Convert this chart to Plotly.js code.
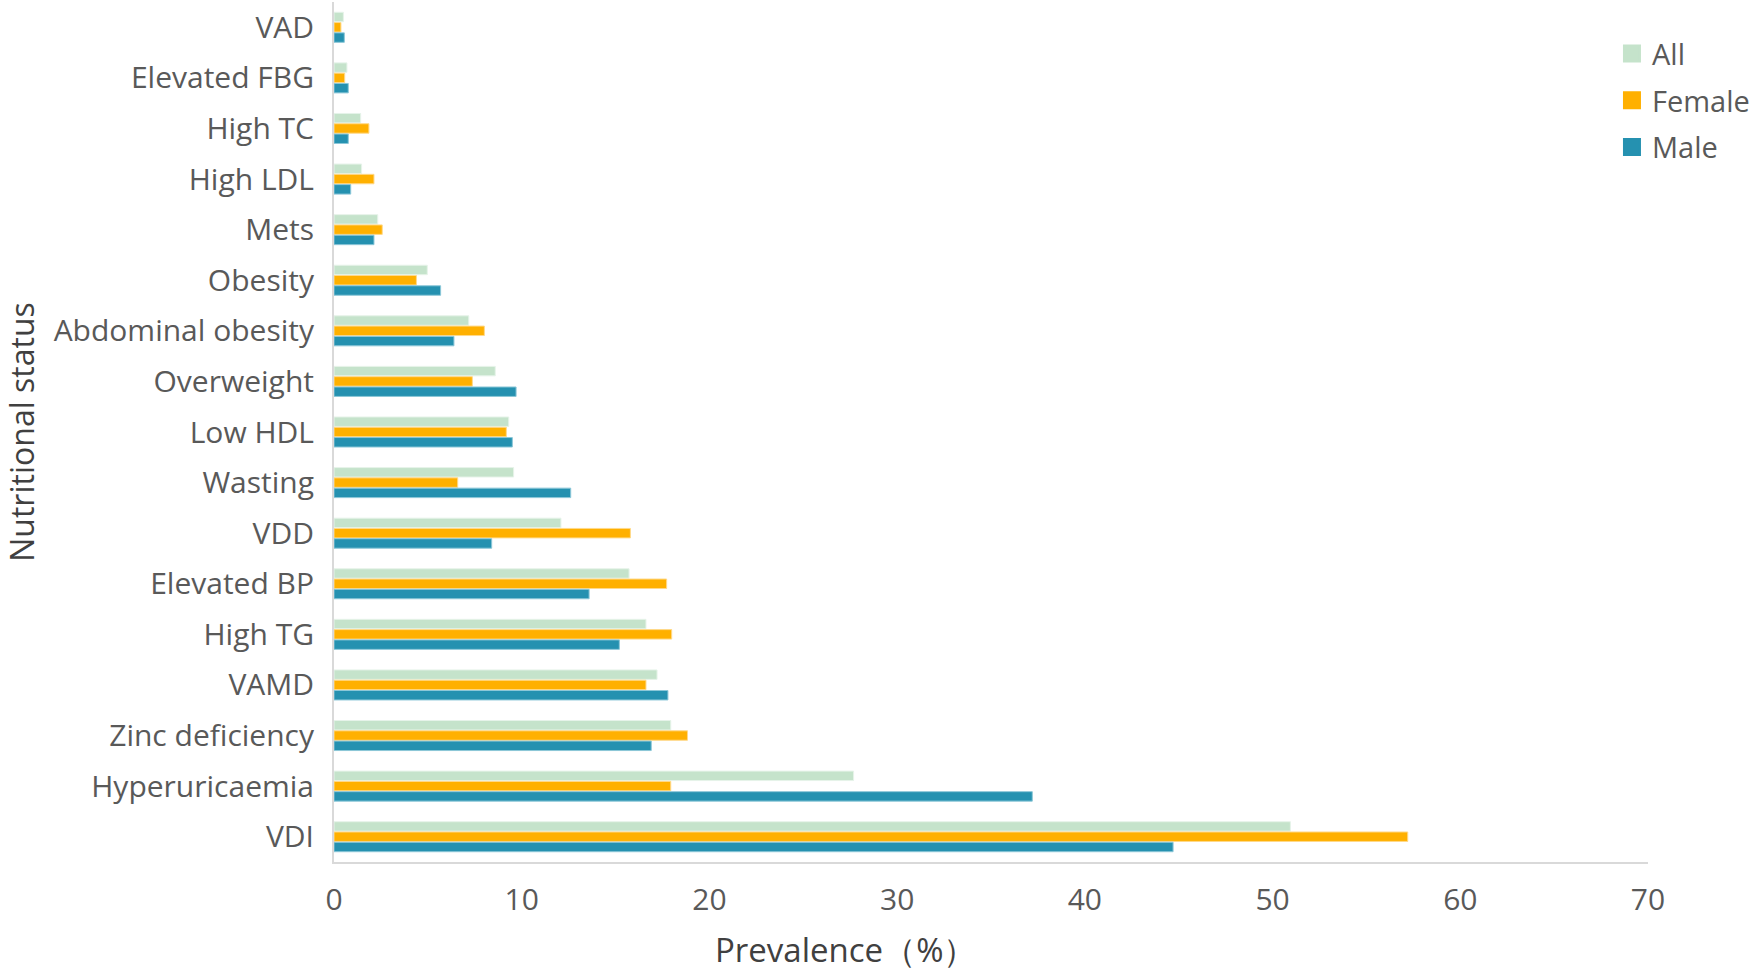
<!DOCTYPE html>
<html>
<head>
<meta charset="utf-8">
<script src="https://cdn.plot.ly/plotly-3.0.1.min.js"></script>
<style>html,body{margin:0;padding:0;background:#fff;}#chart{width:1755px;height:971px;}</style>
</head>
<body>
<div id="chart"></div>
<script>
const categories = ["VAD","Elevated FBG","High TC","High LDL","Mets","Obesity","Abdominal obesity","Overweight","Low HDL","Wasting","VDD","Elevated BP","High TG","VAMD","Zinc deficiency","Hyperuricaemia","VDI"];
const allValues    = [0.50, 0.69, 1.42, 1.47, 2.33, 4.97, 7.18, 8.59, 9.31, 9.57, 12.09, 15.72, 16.62, 17.21, 17.94, 27.68, 50.95];
const femaleValues = [0.37, 0.57, 1.86, 2.13, 2.57, 4.39, 8.01, 7.37, 9.18, 6.59, 15.79, 17.72, 17.99, 16.62, 18.83, 17.94, 57.2];
const maleValues   = [0.55, 0.76, 0.76, 0.89, 2.13, 5.68, 6.39, 9.70, 9.50, 12.61, 8.40, 13.59, 15.20, 17.79, 16.9, 37.2, 44.7];
const seriesNames  = ["All", "Female", "Male"];
const xTicks = [0,10,20,30,40,50,60,70];

const colors = {All: '#c5e3cb', Female: '#ffb000', Male: '#2591b0'};
const edges  = {All: '#e6f3e9', Female: '#ffd98a', Male: '#8cc7d8'};
const valuesBy = {All: allValues, Female: femaleValues, Male: maleValues};

const data = [];
seriesNames.forEach(n => {
  data.push({
    type: 'bar', orientation: 'h', name: n, x: valuesBy[n], y: categories,
    legendgroup: n, showlegend: false,
    marker: {color: colors[n], line: {color: edges[n], width: 1}},
    hoverinfo: 'x+y+name'
  });
});
// legend entries (square swatches)
seriesNames.forEach(n => {
  data.push({
    type: 'scatter', mode: 'markers', name: n, x: [null], y: [null],
    legendgroup: n, showlegend: true, hoverinfo: 'skip',
    marker: {symbol: 'square', size: 16, color: colors[n], line: {color: colors[n], width: 2}}
  });
});

const fontFam = '"Open Sans", "Noto Sans", sans-serif';
const layout = {
  width: 1755, height: 971,
  margin: {l: 334, r: 107, t: 2, b: 109, autoexpand: false},
  paper_bgcolor: '#fff', plot_bgcolor: '#fff',
  barmode: 'group', bargap: 0.39, bargroupgap: 0.08,
  font: {family: fontFam, color: '#595959'},
  showlegend: true,
  legend: {xref: 'container', yref: 'container', x: 0.9185, y: 0.971, xanchor: 'left', yanchor: 'top',
           font: {size: 29, color: '#595959', family: fontFam},
           traceorder: 'grouped', tracegroupgap: 6, bgcolor: 'rgba(0,0,0,0)',
           itemwidth: 30},
  xaxis: {
    range: [0, 70], tickvals: xTicks, ticktext: xTicks.map(String),
    showgrid: false, zeroline: false,
    showline: true, linecolor: '#d9d9d9', linewidth: 2,
    ticks: 'outside', ticklen: 10, tickcolor: 'rgba(0,0,0,0)',
    tickfont: {size: 30, color: '#595959', family: fontFam}
  },
  yaxis: {
    autorange: 'reversed', type: 'category',
    showgrid: false, zeroline: false,
    showline: true, linecolor: '#d9d9d9', linewidth: 2,
    ticks: 'outside', ticklen: 12, tickcolor: 'rgba(0,0,0,0)',
    tickfont: {size: 30, color: '#595959', family: fontFam},
    title: {text: 'Nutritional status', font: {size: 32, color: '#404040', family: fontFam}, standoff: 18}
  },
  annotations: [{
    text: 'Prevalence（%）', xref: 'paper', yref: 'paper', x: 0.389, y: -0.1023,
    xanchor: 'center', yanchor: 'middle', showarrow: false,
    font: {size: 33, color: '#404040', family: fontFam}
  }]
};

Plotly.newPlot('chart', data, layout, {displayModeBar: false, responsive: false});
</script>
</body>
</html>
